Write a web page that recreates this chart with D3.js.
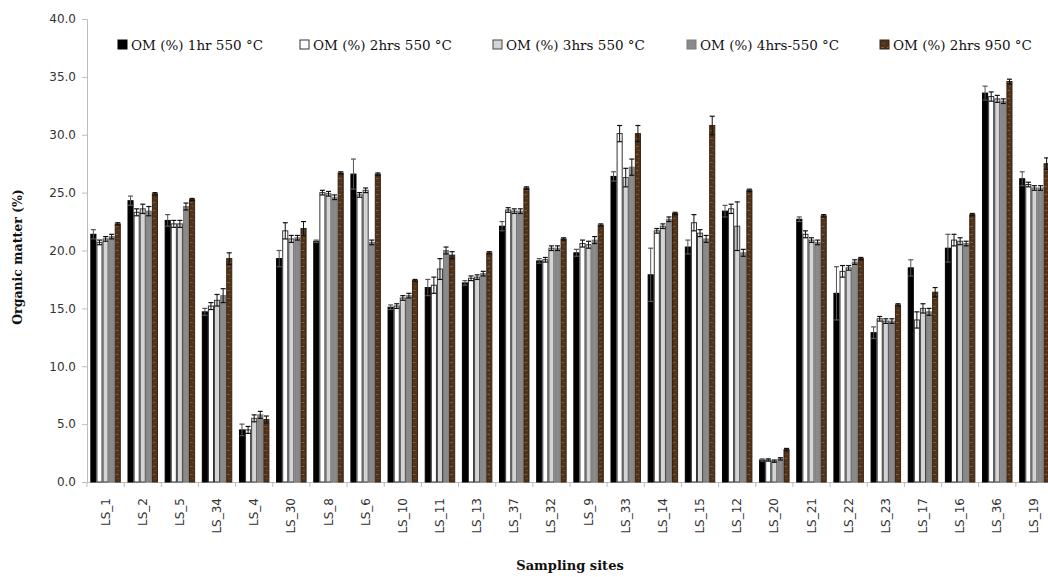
<!DOCTYPE html>
<html><head><meta charset="utf-8">
<script src="https://cdn.jsdelivr.net/npm/d3@7"></script>
<style>body{margin:0;background:#fff;}svg{display:block;}</style>
</head><body><svg id="c" width="1048" height="577"></svg>
<script>
const categories = ["LS_1","LS_2","LS_5","LS_34","LS_4","LS_30","LS_8","LS_6","LS_10","LS_11","LS_13","LS_37","LS_32","LS_9","LS_33","LS_14","LS_15","LS_12","LS_20","LS_21","LS_22","LS_23","LS_17","LS_16","LS_36","LS_19"];
const seriesNames = ["OM (%) 1hr 550 °C","OM (%) 2hrs 550 °C","OM (%) 3hrs 550 °C","OM (%) 4hrs-550 °C","OM (%) 2hrs 950 °C"];
const om1hr550 = [21.4,24.3,22.6,14.7,4.5,19.3,20.8,26.6,15.1,16.8,17.2,22.1,19.1,19.8,26.4,17.9,20.3,23.4,1.9,22.7,16.3,12.9,18.5,20.2,33.6,26.2];
const om2hrs550 = [20.7,23.3,22.3,15.2,4.5,21.7,25.0,24.8,15.2,17.0,17.6,23.5,19.2,20.6,30.1,21.7,22.4,23.6,1.9,21.4,18.2,14.1,14.0,20.9,33.3,25.7];
const om3hrs550 = [21.0,23.6,22.3,15.7,5.5,21.0,24.9,25.2,15.9,18.4,17.7,23.4,20.2,20.5,26.3,22.1,21.5,22.1,1.8,20.9,18.5,13.9,15.0,20.8,33.1,25.4];
const om4hrs550 = [21.2,23.4,23.8,16.1,5.8,21.1,24.6,20.7,16.1,20.0,18.0,23.4,20.2,20.9,27.2,22.7,21.0,19.8,2.0,20.7,19.0,13.9,14.7,20.6,32.9,25.4];
const om2hrs950 = [22.3,24.9,24.4,19.3,5.4,21.9,26.7,26.6,17.4,19.6,19.8,25.4,21.0,22.2,30.1,23.2,30.8,25.2,2.8,23.0,19.3,15.3,16.4,23.1,34.6,27.5];
const err1hr550 = [0.4,0.4,0.5,0.3,0.5,0.7,0.1,1.3,0.2,0.7,0.2,0.4,0.2,0.3,0.4,2.3,0.6,0.5,0.1,0.2,2.3,0.5,0.7,1.2,0.6,0.6];
const err2hrs550 = [0.2,0.3,0.3,0.3,0.3,0.7,0.2,0.2,0.2,0.7,0.2,0.2,0.2,0.3,0.7,0.2,0.7,0.4,0.1,0.3,0.5,0.2,0.7,0.5,0.4,0.2];
const err3hrs550 = [0.2,0.4,0.3,0.5,0.3,0.3,0.2,0.2,0.2,0.9,0.2,0.2,0.2,0.3,0.8,0.2,0.3,2.1,0.1,0.2,0.2,0.2,0.4,0.3,0.3,0.2];
const err4hrs550 = [0.2,0.4,0.3,0.6,0.3,0.2,0.2,0.2,0.2,0.3,0.2,0.2,0.2,0.3,0.7,0.2,0.3,0.3,0.1,0.2,0.2,0.2,0.3,0.2,0.2,0.2];
const err2hrs950 = [0.1,0.1,0.1,0.5,0.3,0.6,0.1,0.1,0.1,0.3,0.1,0.1,0.1,0.1,0.7,0.1,0.8,0.1,0.1,0.1,0.1,0.1,0.4,0.1,0.2,0.5];
const yTicks = [0,5,10,15,20,25,30,35,40];

const values = [om1hr550, om2hrs550, om3hrs550, om4hrs550, om2hrs950];
const errors = [err1hr550, err2hrs550, err3hrs550, err4hrs550, err2hrs950];
const fills = ["#000000","#ffffff","#d4d4d4","#8a8a8a","url(#brownTex)"];
const strokes = ["#000000","#333333","#444444","#7a7a7a","#3a2412"];

const svg = d3.select("#c");
const defs = svg.append("defs");
const pat = defs.append("pattern").attr("id","brownTex").attr("patternUnits","userSpaceOnUse").attr("width",6).attr("height",8);
pat.append("rect").attr("width",6).attr("height",8).attr("fill","#4e321b");
pat.append("rect").attr("x",1).attr("y",2).attr("width",3).attr("height",1).attr("fill","#8f5c2e");
pat.append("rect").attr("x",3).attr("y",6).attr("width",2).attr("height",1).attr("fill","#74492a");

const x0 = d3.scaleBand().domain(categories).range([87,1053]).paddingInner(0.18).paddingOuter(0.09);
const x1 = d3.scaleBand().domain(d3.range(5)).range([0,x0.bandwidth()]).padding(0);
const y = d3.scaleLinear().domain([0,40]).range([482,19]);

// y axis
const ya = svg.append("g").attr("transform","translate(87,0)")
  .call(d3.axisLeft(y).tickValues(yTicks).tickFormat(d3.format(".1f")).tickSize(5).tickPadding(6));
ya.select(".domain").attr("stroke","#bdbdbd");
ya.selectAll(".tick line").attr("stroke","#bdbdbd");
ya.selectAll(".tick text").attr("font-family","DejaVu Sans, sans-serif").attr("font-size",12).attr("fill","#333");

// x axis line and ticks at band boundaries
svg.append("line").attr("x1",87).attr("x2",1053).attr("y1",482.5).attr("y2",482.5).attr("stroke","#bdbdbd");
const bounds = categories.map(c => x0(c) - x0.step()*x0.paddingInner()/2);
svg.append("g").selectAll("line").data(bounds).join("line")
  .attr("x1",d=>d).attr("x2",d=>d).attr("y1",482).attr("y2",487).attr("stroke","#bdbdbd");
svg.append("g").selectAll("text").data(categories).join("text")
  .attr("transform",d=>`translate(${x0(d)+x0.bandwidth()/2+4},498) rotate(-90)`)
  .attr("text-anchor","end").attr("font-family","DejaVu Sans, sans-serif").attr("font-size",12).attr("fill","#333")
  .text(d=>d);

// bars
const groups = svg.append("g").selectAll("g").data(categories).join("g")
  .attr("transform",d=>`translate(${x0(d)},0)`);
groups.each(function(c, ci){
  const g = d3.select(this);
  for (let s=0; s<5; s++){
    const v = values[s][ci];
    g.append("rect").attr("x",x1(s)+0.5).attr("y",y(v)).attr("width",x1.bandwidth()-1).attr("height",y(0)-y(v))
      .attr("fill",fills[s]).attr("stroke",strokes[s]).attr("stroke-width",1);
  }
  for (let s=0; s<5; s++){
    const v = values[s][ci], e = errors[s][ci];
    const cx = x1(s)+x1.bandwidth()/2;
    const col = s===0 ? "#555" : "#111";
    g.append("line").attr("x1",cx).attr("x2",cx).attr("y1",y(v-e)).attr("y2",y(v+e)).attr("stroke",col).attr("stroke-width",1);
    g.append("line").attr("x1",cx-2.5).attr("x2",cx+2.5).attr("y1",y(v+e)).attr("y2",y(v+e)).attr("stroke",col).attr("stroke-width",1.2);
    g.append("line").attr("x1",cx-2.5).attr("x2",cx+2.5).attr("y1",y(v-e)).attr("y2",y(v-e)).attr("stroke",col).attr("stroke-width",1.2);
  }
});

// legend
const legX = [118,300,493,687,880];
const leg = svg.append("g").selectAll("g").data(seriesNames).join("g")
  .attr("transform",(d,i)=>`translate(${legX[i]},45)`);
leg.append("rect").attr("x",0).attr("y",-5).attr("width",9).attr("height",9)
  .attr("fill",(d,i)=>fills[i]).attr("stroke",(d,i)=>strokes[i]);
leg.append("text").attr("x",13).attr("y",4.5).attr("font-family","DejaVu Serif, serif").attr("font-size",13.5).attr("fill","#111")
  .text(d=>d);

// titles
svg.append("text").attr("transform","translate(22,257) rotate(-90)").attr("text-anchor","middle")
  .attr("font-family","DejaVu Serif, serif").attr("font-weight","bold").attr("font-size",12.5).attr("fill","#111")
  .text("Organic matter (%)");
svg.append("text").attr("x",570).attr("y",570).attr("text-anchor","middle")
  .attr("font-family","DejaVu Serif, serif").attr("font-weight","bold").attr("font-size",13).attr("fill","#111")
  .text("Sampling sites");
</script></body></html>
